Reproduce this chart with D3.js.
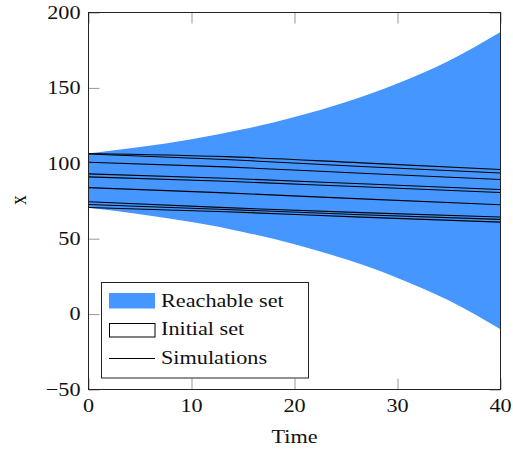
<!DOCTYPE html>
<html>
<head>
<meta charset="utf-8">
<script src="https://cdn.jsdelivr.net/npm/d3@7"></script>
<style>
  html, body { margin: 0; padding: 0; background: #fff; }
  svg { display: block; font-family: "Liberation Serif", "Times New Roman", serif; }
</style>
</head>
<body>
<svg id="chart" width="513" height="449"></svg>
<script>
// Reachable-set envelope over time
const envTime  = [0, 5, 10, 15, 20, 25, 30, 35, 40];
const envUpper = [106.5, 110.8, 116, 122.5, 130.7, 140.7, 153, 168, 187];
const envLower = [70.5, 66.2, 61, 54.5, 46.3, 36.3, 24, 9, -10];

// Simulated trajectories, sampled at simTime
const simTime = [0, 13.3, 26.5, 40];
const sim1 = [106.5, 104.4, 100.3, 95.9];
const sim2 = [106.2, 102.5, 97.9, 93.6];
const sim3 = [100.7, 97.6, 93.4, 89.3];
const sim4 = [93.0, 90.1, 86.4, 82.6];
const sim5 = [91.0, 88.1, 84.4, 80.6];
const sim6 = [83.9, 80.4, 76.4, 72.5];
const sim7 = [74.5, 70.6, 67.3, 64.4];
const sim8 = [72.7, 69.4, 65.9, 62.8];
const sim9 = [70.7, 67.9, 64.3, 61.0];
const simulations = [sim1, sim2, sim3, sim4, sim5, sim6, sim7, sim8, sim9];

// Initial set (time 0)
const initialLow = 70.5, initialHigh = 106.5;

const xTicks = [0, 10, 20, 30, 40];
const yTicks = [-50, 0, 50, 100, 150, 200];
const legendLabels = ["Reachable set", "Initial set", "Simulations"];

const svg = d3.select("#chart");
const L = 88.5, R = 500.5, T = 12.5, B = 389.5;
const x = d3.scaleLinear().domain([0, 40]).range([L, R]);
const y = d3.scaleLinear().domain([-50, 200]).range([B, T]);

svg.append("defs").append("clipPath").attr("id", "plotclip")
  .append("rect").attr("x", L).attr("y", T).attr("width", R - L).attr("height", B - T);

// inward ticks on all four sides
const tickLen = 11;
const tickCol = "#999";
const axB = d3.axisBottom(x).tickValues(xTicks).tickSize(-tickLen).tickFormat("");
const axT = d3.axisTop(x).tickValues(xTicks).tickSize(-tickLen).tickFormat("");
const axLft = d3.axisLeft(y).tickValues(yTicks).tickSize(-tickLen).tickFormat("");
const axRgt = d3.axisRight(y).tickValues(yTicks).tickSize(-tickLen).tickFormat("");
[[axB, `translate(0,${B})`], [axT, `translate(0,${T})`],
 [axLft, `translate(${L},0)`], [axRgt, `translate(${R},0)`]].forEach(([ax, tr]) => {
  const g = svg.append("g").attr("transform", tr).call(ax);
  g.select(".domain").remove();
  g.selectAll(".tick line").attr("stroke", tickCol).attr("stroke-width", 1);
});

// reachable set band
const band = envTime.map((t, i) => ({ t, lo: envLower[i], hi: envUpper[i] }));
svg.append("path")
  .datum(band)
  .attr("clip-path", "url(#plotclip)")
  .attr("fill", "#4696ff")
  .attr("d", d3.area().x(d => x(d.t)).y0(d => y(d.lo)).y1(d => y(d.hi)).curve(d3.curveMonotoneX));

// initial set
svg.append("rect")
  .attr("x", x(0)).attr("y", y(initialHigh))
  .attr("width", 0).attr("height", y(initialLow) - y(initialHigh))
  .attr("fill", "#fff").attr("stroke", "#000").attr("stroke-width", 1);

// simulation traces
const line = d3.line().x((d, i) => x(simTime[i])).y(d => y(d)).curve(d3.curveMonotoneX);
svg.append("g").attr("clip-path", "url(#plotclip)")
  .selectAll("path").data(simulations).join("path")
  .attr("d", line).attr("fill", "none").attr("stroke", "#000").attr("stroke-width", 1.1);

// frame
svg.append("rect").attr("x", L).attr("y", T).attr("width", R - L).attr("height", B - T)
  .attr("fill", "none").attr("stroke", "#222").attr("stroke-width", 1);

// text helper: serif text with a slight horizontal stretch
const fs = 19;
const sx = 1.17;
function label(parent, tx, ty, str, anchor, extra = "") {
  return parent.append("text")
    .attr("transform", `translate(${tx},${ty}) scale(${sx},1)${extra}`)
    .attr("text-anchor", anchor)
    .attr("font-size", fs).attr("fill", "#111")
    .text(str);
}

// tick labels
const gx = svg.append("g");
xTicks.forEach(d => label(gx, x(d), 411.5, d, "middle"));
const gy = svg.append("g");
yTicks.forEach(d => label(gy, 80.5, y(d) + 6.3, d < 0 ? "\u2212" + Math.abs(d) : d, "end"));

// axis titles
label(svg, (L + R) / 2, 442.5, "Time", "middle");
label(svg, 25.5, 200, "x", "middle", " rotate(-90)");

// legend
const lg = svg.append("g");
lg.append("rect").attr("x", 101.5).attr("y", 282.5).attr("width", 207).attr("height", 95.5)
  .attr("fill", "#fff").attr("stroke", "#222").attr("stroke-width", 1);
lg.append("rect").attr("x", 109).attr("y", 293).attr("width", 46).attr("height", 15.5)
  .attr("fill", "#4696ff");
lg.append("rect").attr("x", 109.5).attr("y", 323.5).attr("width", 45.5).attr("height", 13.5)
  .attr("fill", "#fff").attr("stroke", "#000").attr("stroke-width", 1);
lg.append("line").attr("x1", 109).attr("x2", 155).attr("y1", 358.5).attr("y2", 358.5)
  .attr("stroke", "#000").attr("stroke-width", 1.1);
const baselines = [306.5, 335, 363.5];
legendLabels.forEach((d, i) => label(lg, 161, baselines[i], d, "start"));
</script>
</body>
</html>
